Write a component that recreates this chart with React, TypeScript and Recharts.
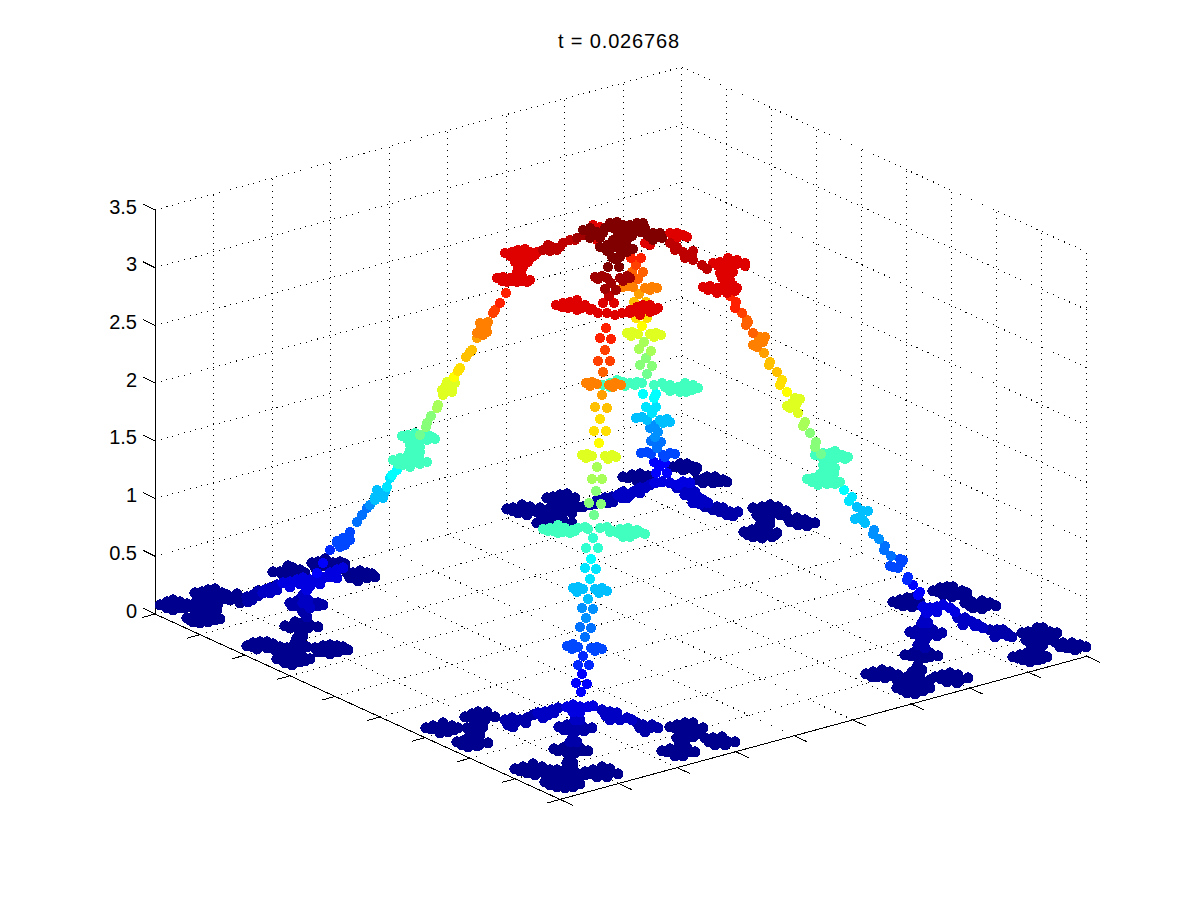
// App.tsx - heat profile on a fractal, drawn as a projected 3D scatter
import { ScatterChart, Scatter, XAxis, YAxis, ReferenceLine } from "recharts";

type Pt = [number, number];

const title = "t = 0.026768";
const zTicks = [0, 0.5, 1, 1.5, 2, 2.5, 3, 3.5];
const floorTicks = [0, 1, 2, 3, 4, 5, 6, 7, 8, 9];

// projected point positions, one list per colour level
const navy: Pt[] = [
  // left corner
  [160,605],[167,602],[173,600],[180,602],[187,604],[167,608],[173,610],[180,608],
  [165,604],[172,605],[178,606],[185,608],
  [195,593],[202,592],[208,590],[215,589],[222,593],[227,595],[202,598],[210,599],[218,599],
  [205,595],[212,595],[220,597],[198,596],[225,599],[212,604],[205,602],
  [198,608],[207,607],[212,605],[195,603],[203,603],[210,603],[218,604],[203,612],[210,611],[217,610],[195,611],
  [187,618],[193,617],[200,616],[207,615],[213,615],[220,619],[193,622],[200,623],[208,622],[215,620],
  [197,620],[204,619],[212,618],[190,620],[204,612],
  [233,597],[240,598],[240,603],[230,600],[237,594],[245,600],
  [273,572],[280,572],[287,570],[293,568],[300,570],[305,573],[283,575],[293,575],
  [288,566],[296,572],[302,576],
  [312,563],[318,562],[327,561],[333,563],[340,562],[345,564],[330,567],
  [322,566],[336,566],[325,559],[315,567],
  [347,573],[353,573],[360,571],[367,573],[375,577],[350,578],[358,581],[367,578],
  [355,577],[362,575],[372,574],[345,570],
  [285,626],[293,625],[302,623],[310,625],[318,627],[297,628],[303,629],
  [290,628],[300,626],[308,628],[295,622],
  [300,633],[297,638],[300,643],[293,647],[303,636],[295,643],[303,646],
  [247,646],[253,643],[260,642],[267,642],[273,644],[280,647],[257,649],[267,648],
  [253,647],[262,646],[270,647],[275,650],[285,652],
  [287,648],[293,652],[300,650],[307,647],
  [315,648],[323,646],[330,645],[337,646],[343,647],[348,650],[323,652],[330,654],[338,652],
  [327,649],[335,650],[343,650],[318,652],
  [277,659],[283,657],[290,657],[297,657],[303,657],[310,659],[285,663],[292,665],[300,662],
  [282,660],[290,661],[298,660],[305,661],[290,653],[300,655],
  // right corner
  [933,591],[940,588],[947,587],[953,587],[962,591],[967,593],[943,595],[952,597],[958,595],
  [947,592],[938,592],[957,592],[950,590],
  [893,602],[900,600],[907,598],[913,598],[920,602],[903,606],[912,607],
  [898,604],[908,603],[916,605],
  [965,603],[972,602],[982,601],[990,603],[996,606],[973,608],[982,609],
  [970,606],[978,605],[987,606],[968,600],
  [1022,633],[1028,632],[1037,628],[1043,628],[1050,632],[1057,633],[1032,637],[1040,638],
  [1028,637],[1036,634],[1045,633],[1052,636],[1036,640],[1026,640],[1043,645],
  [1030,643],[1038,643],[1032,648],
  [1055,642],[1063,643],[1072,643],[1080,645],[1086,647],[1067,648],[1075,650],
  [1060,647],[1070,647],[1078,648],[1050,640],
  [1013,657],[1020,655],[1027,653],[1035,653],[1042,655],[1047,657],[1023,660],[1030,662],[1038,660],
  [1018,658],[1027,658],[1035,658],[1042,659],[1035,648],
  [905,655],[913,653],[922,652],[930,653],[938,656],[917,657],[925,658],
  [911,656],[920,656],[930,657],
  [918,665],[915,670],[922,670],
  [866,674],[873,672],[882,670],[890,672],[898,675],[877,677],[885,678],
  [872,677],[881,674],[890,676],[897,680],[905,681],[912,680],[920,683],[912,672],
  [907,677],[913,675],[920,678],
  [935,677],[942,675],[950,673],[958,675],[968,678],[947,682],[957,683],
  [941,679],[950,678],[960,680],[930,680],
  [897,688],[903,686],[912,685],[922,685],[930,688],[907,693],[915,694],[923,691],
  [902,690],[912,690],[920,689],[928,686],
  // back corner
  [673,467],[680,464],[687,464],[693,467],[697,468],[683,470],[678,467],[688,468],[695,471],
  [623,477],[632,475],[640,474],[648,476],[653,479],[637,481],[645,481],[628,478],[640,478],[650,477],
  [698,480],[707,477],[715,477],[723,480],[727,482],[703,483],[713,483],[703,479],[712,480],[720,482],
  [547,498],[553,497],[560,495],[567,494],[575,498],[557,502],[568,502],[553,500],[562,500],[572,502],
  [507,509],[513,508],[522,505],[530,507],[540,508],[518,513],[527,515],[537,512],
  [513,511],[522,510],[530,511],[540,513],
  [550,508],[558,508],[567,507],[577,507],[583,507],
  [537,523],[545,521],[553,520],[563,520],[572,523],[550,515],[555,514],[563,513],[572,513],[543,516],
  [753,508],[762,507],[770,505],[778,507],[786,511],[763,512],[773,512],[758,511],[766,510],[776,510],
  [767,518],[760,518],[757,515],[770,518],[763,523],[780,515],[760,525],[770,524],[785,514],
  [788,518],[797,518],[805,520],[815,523],[798,525],[807,526],[793,521],[802,522],[810,523],[790,522],
  [744,532],[752,530],[760,529],[768,531],[777,533],[753,537],[762,538],[772,537],
  [748,535],[757,534],[765,535],[775,535],[760,533],
  // front corner
  [465,717],[472,714],[478,712],[487,712],[495,717],[475,720],[485,720],[470,717],[478,716],[488,716],
  [426,728],[433,726],[443,723],[452,726],[440,733],[448,732],[458,728],[431,729],[438,729],[446,728],[454,730],
  [467,728],[475,727],[483,727],[477,733],[470,735],[480,735],[470,728],
  [457,742],[463,741],[472,740],[480,742],[488,743],[468,747],[477,746],[462,745],[470,744],[479,745],
  [670,727],[677,725],[685,723],[693,723],[703,728],[680,730],[690,730],[675,728],[684,728],[695,728],
  [687,738],[677,738],[693,737],[682,735],[690,734],
  [705,738],[713,738],[722,737],[735,742],[715,745],[725,745],[709,742],[718,742],[728,742],[700,734],
  [662,751],[670,749],[678,748],[687,748],[695,752],[675,756],[683,756],[667,752],[676,752],[685,752],[690,752],[680,744],
  [554,749],[563,748],[572,747],[580,748],[588,751],[567,753],[575,753],[558,751],[566,750],[575,750],[583,751],
  [570,758],[567,763],[573,763],
  [515,769],[523,767],[533,764],[542,767],[550,770],[527,773],[535,775],[520,771],[530,770],[538,771],[545,774],
  [557,770],[565,770],[573,768],[567,775],[578,774],[570,772],[563,775],
  [585,772],[593,770],[602,767],[610,769],[618,774],[597,777],[607,777],[591,774],[600,773],[610,773],[585,775],
  [545,782],[553,780],[562,779],[570,780],[580,784],[557,787],[565,788],[573,787],
  [550,785],[558,784],[567,784],[575,784],[560,778],
];
const indigo: Pt[] = [
  [247,597],[253,595],[248,602],[252,600],[258,596],[258,591],[303,612],[307,617],
  [290,603],[297,601],[303,602],[312,603],[318,603],[323,605],[297,606],[305,607],[292,606],[300,605],[310,606],[318,606],
  [990,630],[997,630],[1003,630],[1007,633],[995,637],[1012,637],[1000,634],[1008,636],
  [910,632],[917,630],[925,629],[933,630],[942,633],[918,635],[928,636],[925,640],[918,645],[925,648],
  [914,634],[922,633],[930,634],[937,636],
  [605,498],[612,497],[608,503],[597,500],[590,505],[600,503],[613,502],[595,504],
  [717,507],[723,508],[730,512],[738,512],[727,515],[720,512],[733,516],[713,510],[705,507],
  [505,720],[512,718],[513,727],[520,720],[527,718],[533,715],[516,722],[526,723],[508,725],
  [637,723],[643,725],[652,725],[645,732],[658,728],[650,728],[640,728],
  [559,727],[567,725],[575,725],[583,727],[592,728],[570,730],[580,730],[573,737],[570,742],[577,742],
  [564,730],[574,733],[584,731],
];
const royal: Pt[] = [
  [263,593],[270,588],[277,590],[277,585],[265,590],[270,593],[303,595],[308,600],[303,603],[310,608],
  [958,618],[965,618],[963,625],[972,622],[978,625],[983,628],[925,618],[922,623],[928,623],[968,621],[975,626],
  [623,492],[630,495],[637,490],[645,488],[627,498],[618,495],[633,492],[640,493],[622,498],[650,485],[640,488],
  [685,495],[692,498],[698,497],[693,503],[703,500],[708,503],[695,492],[688,490],[700,504],[677,488],[683,488],
  [538,713],[545,712],[543,718],[552,710],[558,708],[548,715],[554,713],
  [602,710],[610,712],[617,713],[610,720],[620,720],[627,718],[575,720],[580,720],[606,716],[615,717],[632,720],
];
const vivid: Pt[] = [
  [283,583],[290,582],[297,580],[303,578],[310,580],[317,577],[323,578],[330,577],[337,578],
  [300,584],[310,586],[320,584],[290,587],
  [337,570],[343,568],[330,573],[307,590],
  [923,607],[930,608],[937,607],[943,605],[950,608],[955,612],[927,613],[937,612],
  [655,483],[662,482],[670,483],[678,485],[683,482],[690,483],
  [567,707],[573,705],[580,707],[588,707],[593,706],[573,712],[580,712],
];
const pure: Pt[] = [
  [317,573],[323,563],[581,692],[576,683],[587,684],[582,674],
  [920,592],[918,595],[913,585],[656,473],[667,473],[654,462],[665,463],[659,467],[661,464],
];
const azureA: Pt[] = [
  [330,550],[578,665],[589,665],[583,656],[908,577],[907,580],
];
const azureB: Pt[] = [
  [343,538],[350,532],[350,540],[345,543],[337,541],[337,543],[345,545],[340,547],
  [567,646],[573,644],[578,647],[572,649],[591,648],[597,647],[602,649],[595,651],
  [900,559],[903,560],[893,567],[890,566],[898,568],[901,563],
  [641,453],[647,452],[651,454],[663,455],[670,453],[675,454],[665,457],
];
const azureC: Pt[] = [
  [357,522],[362,515],[367,508],[585,637],[580,627],[591,628],
  [885,546],[884,550],[891,556],[651,441],[661,442],[657,448],
];
const azureD: Pt[] = [
  [370,505],[586,618],[582,608],[593,609],[874,530],[873,534],[879,539],
  [650,428],[655,425],[658,432],[655,437],
];
const sky: Pt[] = [
  [375,497],[382,497],[377,490],[385,492],[383,498],[375,500],
  [588,599],[573,588],[578,587],[583,589],[577,592],[595,589],[602,588],[607,591],[599,593],
  [857,507],[863,511],[868,511],[858,518],[855,519],[863,520],[865,523],
  [636,418],[642,417],[647,420],[660,420],[667,419],[670,422],[663,423],
];
const aqua: Pt[] = [
  [387,487],[390,478],[590,579],[585,568],[596,569],[852,497],[849,501],[652,413],[646,407],[656,407],
];
const cyan: Pt[] = [
  [392,475],[397,470],[591,559],[844,490],[643,394],[656,394],[654,398],
];
const mint: Pt[] = [[586,548],[598,548],[593,538]];
const teal: Pt[] = [
  [393,460],[400,458],[407,460],[413,457],[420,460],[427,462],[403,465],[410,467],[418,463],
  [398,464],[405,463],[413,462],[420,464],[397,461],
  [410,450],[415,447],[412,443],[417,440],[413,453],[408,455],[420,452],[418,455],[410,445],[420,447],
  [402,436],[408,435],[415,433],[422,435],[428,435],[435,439],[412,440],[420,442],[427,440],
  [407,439],[416,437],[425,438],[432,437],
  [543,529],[550,528],[558,525],[565,528],[572,530],[558,533],[578,528],[585,527],[588,529],
  [548,531],[553,531],[563,532],[570,533],[575,531],[555,529],[563,531],
  [600,528],[607,527],[613,531],[620,529],[628,528],[637,530],[645,534],[623,537],[630,537],
  [618,533],[626,534],[635,534],[640,532],[610,532],
  [815,455],[823,453],[830,453],[835,451],[842,455],[848,457],[827,460],[837,458],
  [820,456],[828,456],[838,456],[845,459],
  [827,467],[832,463],[825,472],[830,473],[823,465],[835,468],[820,474],[834,474],
  [807,479],[813,478],[822,477],[830,478],[840,482],[818,485],[827,484],
  [812,482],[820,481],[830,481],[835,484],
  [603,385],[610,387],[617,380],[623,382],[630,383],[637,382],[642,383],[610,383],[625,386],[635,385],
  [654,385],[662,383],[670,385],[678,387],[685,383],[693,385],[698,388],[680,392],
  [665,387],[675,389],[685,388],[692,390],[670,391],[686,392],
];
const spring: Pt[] = [[420,435],[821,454],[594,515],[647,374]];
const green: Pt[] = [
  [426,427],[427,423],[431,416],[810,433],[816,442],[815,447],
  [589,503],[601,504],[596,491],[646,358],[640,365],[652,366],
];
const lime: Pt[] = [
  [437,408],[438,405],[805,422],[803,426],[592,479],[602,479],[597,467],[639,349],[651,351],[644,342],
];
const chartreuse: Pt[] = [
  [443,395],[445,387],[452,388],[447,382],[455,383],[442,390],[452,392],[448,386],[447,391],
  [795,398],[800,399],[792,403],[787,406],[795,407],[790,408],[798,413],[793,405],[797,403],
  [582,455],[587,454],[592,456],[586,458],[605,456],[612,455],[616,457],[608,459],
  [627,333],[632,332],[638,334],[631,336],[650,334],[656,333],[661,335],[654,337],
];
const yellow: Pt[] = [[454,377],[787,392],[599,443],[642,326]];
const goldA: Pt[] = [[460,368],[458,371],[782,380],[780,385],[594,431],[606,431],[600,419],[636,318],[647,318]];
const goldB: Pt[] = [[466,357],[472,350],[470,352],[777,372],[770,362],[769,365],[595,407],[607,408],[634,302],[646,302]];
const amber: Pt[] = [[477,338],[764,353],[602,395],[639,294]];
const orange: Pt[] = [
  [482,330],[477,333],[487,332],[480,323],[488,322],[483,335],[480,330],[486,327],
  [760,337],[765,337],[753,345],[760,343],[757,347],[763,342],[758,342],
  [586,383],[592,382],[597,384],[590,386],[609,385],[615,383],[621,385],[613,387],
  [623,287],[628,286],[633,287],[645,288],[652,287],[657,288],[650,290],
];
const tangerine: Pt[] = [[753,333],[748,322],[746,325],[747,320],[603,372],[638,279],[632,272],[643,272]];
const vermilion: Pt[] = [[493,313],[495,310],[742,313],[598,361],[610,361],[605,350],[636,265]];
const scarlet: Pt[] = [
  [500,303],[506,293],[730,296],[736,302],[735,308],[600,338],[611,339],[606,328],[631,258],[641,258],
];
const red: Pt[] = [
  [497,278],[503,277],[510,278],[517,278],[523,278],[530,280],[507,282],[517,282],
  [502,281],[512,281],[522,281],[527,282],
  [518,268],[523,267],[517,272],[525,263],[521,272],[515,262],[528,262],
  [505,253],[512,252],[518,250],[525,249],[530,252],[537,252],[517,257],[525,258],[532,257],
  [510,256],[518,254],[526,254],[535,255],[522,262],
  [593,225],[600,227],[597,240],[645,243],[650,245],
  [670,233],[677,233],[683,235],[687,237],[677,238],
  [713,263],[720,262],[728,258],[737,260],[745,263],[723,267],[733,267],
  [718,266],[727,263],[737,264],[745,266],
  [720,273],[728,275],[722,278],[730,280],[725,270],[733,272],[727,283],[733,285],
  [703,287],[710,286],[717,288],[723,287],[730,288],[737,288],[717,293],[727,293],
  [708,290],[717,291],[726,291],[735,291],
  [556,305],[563,303],[570,302],[577,300],[585,305],[592,309],[568,308],[577,310],
  [562,307],[572,305],[582,308],[590,310],
  [598,313],[607,313],[615,315],[622,313],
  [630,310],[637,307],[643,305],[650,305],[658,308],[640,312],[650,312],
  [635,311],[645,309],[655,310],[630,313],[640,315],
  [603,303],[614,303],
];
const crimson: Pt[] = [
  [543,250],[548,245],[557,250],[552,247],[563,243],[570,240],[550,251],[560,247],[575,240],
  [670,243],[677,247],[683,252],[693,251],[685,258],[693,260],[702,265],[707,269],[675,250],[688,255],[692,255],
  [609,296],
];
const maroon: Pt[] = [
  [577,238],[583,235],[605,289],[616,290],[611,283],
  [595,277],[602,276],[607,278],[598,279],[620,278],[627,276],[630,278],[623,281],
];
const darkRed: Pt[] = [
  [583,230],[590,228],[597,232],[603,233],[590,238],[590,233],[600,238],
  [610,223],[617,222],[623,225],[630,225],[637,223],[643,223],[613,228],[623,230],[633,230],
  [617,228],[627,235],[637,228],[645,228],[618,233],[605,228],[650,237],[645,230],[632,236],
  [620,237],[613,240],[620,243],[627,240],[620,250],[613,247],
  [600,247],[607,245],[627,247],[633,249],[607,251],[627,252],
  [640,232],[647,235],[653,233],[660,233],[653,240],[662,238],
  [608,267],[619,267],[613,258],[617,260],[612,257],[620,257],
];

const levels: { color: string; points: Pt[] }[] = [
  { color: "#00008f", points: navy },
  { color: "#0000a8", points: indigo },
  { color: "#0000c4", points: royal },
  { color: "#0000e0", points: vivid },
  { color: "#0000ff", points: pure },
  { color: "#0028ff", points: azureA },
  { color: "#0048ff", points: azureB },
  { color: "#0070ff", points: azureC },
  { color: "#0090ff", points: azureD },
  { color: "#00bfff", points: sky },
  { color: "#00e4ff", points: aqua },
  { color: "#00ffff", points: cyan },
  { color: "#30ffd0", points: mint },
  { color: "#40ffbf", points: teal },
  { color: "#70ff90", points: spring },
  { color: "#88ff78", points: green },
  { color: "#a8ff58", points: lime },
  { color: "#dfff20", points: chartreuse },
  { color: "#ffff00", points: yellow },
  { color: "#ffe000", points: goldA },
  { color: "#ffc000", points: goldB },
  { color: "#ffa000", points: amber },
  { color: "#ff8000", points: orange },
  { color: "#ff6000", points: tangerine },
  { color: "#ff4000", points: vermilion },
  { color: "#ff2000", points: scarlet },
  { color: "#df0000", points: red },
  { color: "#bf0000", points: crimson },
  { color: "#a00000", points: maroon },
  { color: "#800000", points: darkRed },
];

// box projection: a runs along the front-left edge, b along the back-left edge
const project = (a: number, b: number, z: number) => ({
  x: 155 + 45 * a + 58.55 * b,
  y: 614 + 20.6 * a - 15.9 * b - 115.43 * z,
});

const seg = (p: { x: number; y: number }, q: { x: number; y: number }) => [p, q] as any;
const zTop = 3.5;

const dotted = [
  ...floorTicks.map((a) => seg(project(a, 0, 0), project(a, 9, 0))),
  ...floorTicks.map((b) => seg(project(0, b, 0), project(9, b, 0))),
  ...floorTicks.slice(1).map((b) => seg(project(0, b, 0), project(0, b, zTop))),
  ...floorTicks.map((a) => seg(project(a, 9, 0), project(a, 9, zTop))),
  ...zTicks.map((z) => seg(project(0, 0, z), project(0, 9, z))),
  ...zTicks.map((z) => seg(project(0, 9, z), project(9, 9, z))),
];

const solid = [
  seg(project(0, 0, 0), project(9, 0, 0)),
  seg(project(9, 0, 0), project(9, 9, 0)),
  seg(project(0, 0, 0), project(0, 0, zTop)),
  ...floorTicks.map((a) => {
    const p = project(a, 0, 0);
    return seg(p, { x: p.x - 13, y: p.y + 3.6 });
  }),
  ...floorTicks.map((b) => {
    const p = project(9, b, 0);
    return seg(p, { x: p.x + 13, y: p.y + 6 });
  }),
];

const font = "'Liberation Sans', Arial, sans-serif";

const ZTick = ({ x, y, payload }: any) => (
  <g>
    <line x1={x - 12} y1={y - 6} x2={x} y2={y} stroke="#000" shapeRendering="crispEdges" />
    <text x={x - 18} y={y + 3.5} textAnchor="end" fontFamily={font} fontSize={20} fill="#000">
      {payload.value}
    </text>
  </g>
);

const Dot = ({ cx, cy, fill, r }: any) => (
  <circle cx={cx} cy={cy} r={r} fill={fill} shapeRendering="crispEdges" />
);

export default function App() {
  return (
    <div style={{ position: "fixed", left: 0, top: 0, width: 1200, height: 900, background: "#fff" }}>
      <ScatterChart width={1200} height={900} margin={{ top: 0, right: 0, bottom: 0, left: 108 }}>
        <XAxis type="number" dataKey="x" domain={[155, 1200]} hide allowDataOverflow />
        <YAxis yAxisId="px" type="number" dataKey="y" domain={[0, 900]} reversed hide width={0} allowDataOverflow />
        <YAxis
          yAxisId="z"
          type="number"
          orientation="left"
          width={47}
          domain={[-2.4777, 5.3193]}
          ticks={zTicks}
          interval={0}
          axisLine={false}
          tickLine={false}
          tickSize={0}
          tickMargin={0}
          tick={<ZTick />}
          allowDataOverflow
        />
        {dotted.map((s, i) => (
          <ReferenceLine
            key={`grid-${i}`}
            yAxisId="px"
            segment={s}
            stroke="#000"
            strokeWidth={1}
            strokeDasharray="1 5"
            shapeRendering="crispEdges"
            ifOverflow="visible"
          />
        ))}
        {solid.map((s, i) => (
          <ReferenceLine
            key={`axis-${i}`}
            yAxisId="px"
            segment={s}
            stroke="#000"
            strokeWidth={1}
            shapeRendering="crispEdges"
            ifOverflow="visible"
          />
        ))}
        {levels.map((level, i) => (
          <Scatter
            key={level.color}
            yAxisId="px"
            data={level.points.map(([x, y]) => ({ x, y }))}
            fill={level.color}
            shape={<Dot r={i < 4 ? 5.6 : 5} />}
            isAnimationActive={false}
          />
        ))}
        <text x={619} y={48} textAnchor="middle" fontFamily={font} fontSize={20} letterSpacing={0.85} fill="#000">
          {title}
        </text>
      </ScatterChart>
    </div>
  );
}
